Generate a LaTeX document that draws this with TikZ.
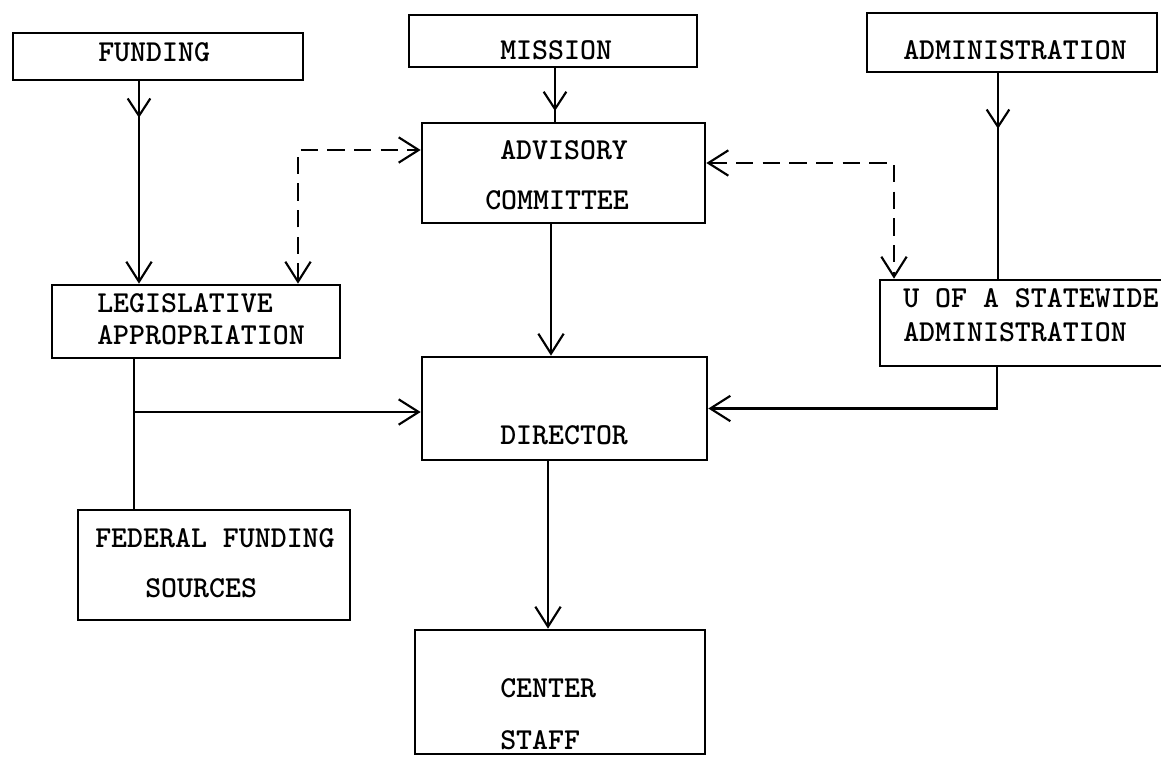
\documentclass[tikz,border=0pt]{standalone}
\usetikzlibrary{arrows.meta,calc,decorations.markings}
\begin{document}
\begin{tikzpicture}[x=0.75pt,y=-0.75pt,
  box/.style={draw, line width=2pt, inner sep=0pt},
  lbl/.style={anchor=west, inner sep=0pt, font=\fontsize{22.8}{26}\selectfont\ttfamily\bfseries},
  conn/.style={line width=1.6pt},
  tip/.style={-{Straight Barb[length=15pt,width=19pt]}},
  twotip/.style={{Straight Barb[length=15pt,width=19pt]}-{Straight Barb[length=15pt,width=19pt]}},
  dashline/.style={dash pattern=on 13pt off 7pt},
  midtip/.style={decoration={markings, mark=at position #1 with {\arrow{Straight Barb[length=13pt,width=17pt]}}}, postaction=decorate}]
\useasboundingbox (0,0) rectangle (1161,758);
% boxes
\node[box, minimum width=290*0.75pt, minimum height=47*0.75pt] (fund) at (158,56.5) {};
\node[box, minimum width=288*0.75pt, minimum height=52*0.75pt] (miss) at (553,41) {};
\node[box, minimum width=290*0.75pt, minimum height=59*0.75pt] (admin) at (1012,42.5) {};
\node[box, minimum width=283*0.75pt, minimum height=100*0.75pt] (adv) at (563.5,173) {};
\node[box, minimum width=288*0.75pt, minimum height=73*0.75pt] (leg) at (196,321.5) {};
\node[box, minimum width=290*0.75pt, minimum height=86*0.75pt] (uofa) at (1025,323) {};
\node[box, minimum width=285*0.75pt, minimum height=103*0.75pt] (dir) at (564.5,408.5) {};
\node[box, minimum width=272*0.75pt, minimum height=110*0.75pt] (fed) at (214,565) {};
\node[box, minimum width=290*0.75pt, minimum height=124*0.75pt] (staff) at (560,692) {};
% texts
\node[lbl] (tfund) at (98,52) {FUNDING};
\node[lbl] (tmiss) at (500,50) {MISSION};
\node[lbl] (tadmin) at (903,50) {ADMINISTRATION};
\node[lbl] (tadv1) at (500,150) {ADVISORY};
\node[lbl] (tadv2) at (485,200) {COMMITTEE};
\node[lbl] (tleg1) at (97,303) {LEGISLATIVE};
\node[lbl] (tleg2) at (97,335) {APPROPRIATION};
\node[lbl] (tuofa1) at (903,298) {U OF A STATEWIDE};
\node[lbl] (tuofa2) at (903,332) {ADMINISTRATION};
\node[lbl] (tdir) at (500,435) {DIRECTOR};
\node[lbl] (tfed1) at (95,538) {FEDERAL FUNDING};
\node[lbl] (tfed2) at (145,588) {SOURCES};
\node[lbl] (tstaff1) at (500,688) {CENTER};
\node[lbl] (tstaff2) at (500,740) {STAFF};
% solid connectors
\draw[conn, tip, midtip=0.18] ($(fund.south)+(-19,0)$) -- ($(leg.north)+(-57,0)$);
\draw[conn, midtip=0.8] ($(miss.south)+(2,0)$) -- ($(adv.north)+(-8.5,0)$);
\draw[conn, midtip=0.27] ($(admin.south)+(-14,0)$) -- ($(uofa.north)+(-27,0)$);
\draw[conn, tip] ($(adv.south)+(-12.5,0)$) -- ($(dir.north)+(-13.5,0)$);
\draw[conn, tip] ($(dir.south)+(-16.5,0)$) -- ($(staff.north)+(-12,0)$);
\draw[conn] ($(leg.south)+(-62,0)$) -- ($(fed.north)+(-80,0)$);
\coordinate (br) at (134,412);
\draw[conn, tip] (br) -- (br -| dir.west);
\draw[conn, tip] ($(uofa.south)+(-28,0)$) |- (dir.east);
% dashed connectors
\draw[conn, dashline, twotip] ($(leg.north)+(102,0)$) |- ($(adv.west)+(0,-23)$);
\draw[conn, dashline, twotip] ($(adv.east)+(0,-10)$) -| ($(uofa.north)+(-131,0)$);
\end{tikzpicture}
\end{document}
